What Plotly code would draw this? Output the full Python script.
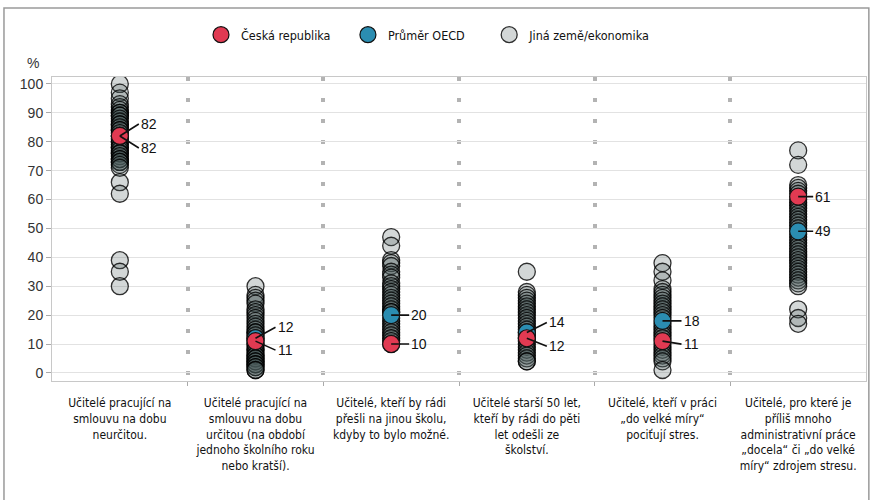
import plotly.graph_objects as go

categories = [
    "Učitelé pracující na<br>smlouvu na dobu<br>neurčitou.",
    "Učitelé pracující na<br>smlouvu na dobu<br>určitou (na období<br>jednoho školního roku<br>nebo kratší).",
    "Učitelé, kteří by rádi<br>přešli na jinou školu,<br>kdyby to bylo možné.",
    "Učitelé starší 50 let,<br>kteří by rádi do pěti<br>let odešli ze<br>školství.",
    "Učitelé, kteří v práci<br>„do velké míry“<br>pociťují stres.",
    "Učitelé, pro které je<br>příliš mnoho<br>administrativní práce<br>„docela“ či „do velké<br>míry“ zdrojem stresu.",
]

cz_values = [82, 11, 10, 12, 11, 61]
oecd_values = [82, 12, 20, 14, 18, 49]

other_values = [
    [100, 97, 95, 93, 92, 91, 90, 90, 89, 89, 88, 87, 86, 86, 85, 84, 84, 83, 82, 81,
     80, 80, 79, 78, 78, 77, 76, 76, 75, 74, 74, 73, 73, 72, 71, 66, 62, 39, 35, 30],
    [30, 27, 26, 25, 24, 22, 21, 20, 19, 18, 17, 16, 15, 14, 14, 13, 12, 11, 10, 10,
     9, 8, 8, 7, 6, 6, 5, 5, 4, 4, 3, 3, 2, 2, 1, 1],
    [47, 44, 39, 38, 37, 35, 34, 33, 31, 30, 29, 28, 27, 26, 25, 24, 23, 22, 21, 21,
     19, 18, 17, 16, 15, 14, 13, 12, 11, 10],
    [35, 28, 27, 26, 25, 24, 23, 22, 21, 20, 19, 18, 17, 16, 15, 14, 13, 12, 11, 10,
     9, 8, 7, 6, 5, 4, 4],
    [38, 35, 32, 29, 28, 27, 26, 25, 24, 23, 22, 21, 20, 19, 17, 16, 15, 14, 13, 12,
     10, 9, 8, 7, 6, 5, 4, 1],
    [77, 72, 65, 64, 63, 62, 60, 59, 58, 57, 56, 55, 54, 53, 52, 51, 50, 48, 47, 46,
     45, 44, 43, 42, 41, 40, 39, 38, 37, 36, 35, 34, 33, 32, 31, 30, 22, 19, 17],
]

y_ticks = [0, 10, 20, 30, 40, 50, 60, 70, 80, 90, 100]

# label offsets (pixels) for leader lines: (cz_ax, cz_ay, oecd_ax, oecd_ay)
label_offsets = [(19, 12, 19, -12), (20, 9, 20, -11), (18, 0, 18, 0),
                 (20, 8, 20, -10), (19, 3, 19, 0), (15, 0, 15, 0)]

NARROW = "DejaVu Sans Condensed, Liberation Sans Narrow, Arial Narrow, sans-serif"
REG = "Liberation Sans, Arial, sans-serif"

fig = go.Figure()

ox, oy = [], []
for i, vals in enumerate(other_values):
    ox += [i] * len(vals)
    oy += vals

fig.add_trace(go.Scatter(
    x=ox, y=oy, mode="markers", name="Jiná země/ekonomika", legend="legend3",
    marker=dict(size=17, color="rgba(70,88,88,0.24)",
                line=dict(color="rgba(0,0,0,0.8)", width=1.3)),
    hoverinfo="y"))
fig.add_trace(go.Scatter(
    x=list(range(6)), y=oecd_values, mode="markers", name="Průměr OECD", legend="legend2",
    marker=dict(size=17, color="#2B8DB1", line=dict(color="#111", width=1.2))))
fig.add_trace(go.Scatter(
    x=list(range(6)), y=cz_values, mode="markers", name="Česká republika", legend="legend",
    marker=dict(size=17, color="#E13A52", line=dict(color="#111", width=1.2))))

for i in range(6):
    cax, cay, oax, oay = label_offsets[i]
    for val, ax, ay in ((cz_values[i], cax, cay), (oecd_values[i], oax, oay)):
        fig.add_annotation(x=i, y=val, text=str(val), showarrow=True, arrowhead=0,
                           arrowwidth=1.6, arrowcolor="#111", ax=ax, ay=ay,
                           xanchor="left", font=dict(family=REG, size=14, color="#111"),
                           standoff=0)

fig.add_annotation(x=-0.023, y=1.047, xref="paper", yref="paper", text="%",
                   xanchor="center", yanchor="middle",
                   showarrow=False, font=dict(family=REG, size=14, color="#333"))

# outer frame
fig.add_shape(type="rect", xref="paper", yref="paper", x0=-0.059, x1=1.0035,
              y0=-0.42, y1=1.227, line=dict(color="#9a9a9a", width=1.5),
              fillcolor="rgba(0,0,0,0)", layer="below")

legend_common = dict(orientation="h", xanchor="left", xref="container",
                     y=0.93, yanchor="middle", yref="container",
                     font=dict(family=NARROW, size=12.5, color="#111"),
                     itemclick=False, bgcolor="rgba(0,0,0,0)")

fig.update_layout(
    width=872, height=500,
    margin=dict(l=52, r=6, t=77, b=119, autoexpand=False),
    paper_bgcolor="white", plot_bgcolor="white",
    showlegend=True,
    legend=dict(x=0.2305, **legend_common),
    legend2=dict(x=0.399, **legend_common),
    legend3=dict(x=0.561, **legend_common),
    xaxis=dict(range=[-0.5, 5.5], tickmode="array", tickvals=list(range(6)),
               ticktext=categories, ticks="", showgrid=False, zeroline=False,
               automargin=False, ticklabelstandoff=11,
               showline=True, linecolor="#c8c8c8", linewidth=1, mirror=True,
               tickfont=dict(family=NARROW, size=12, color="#111"),
               minor=dict(tickmode="array", tickvals=[0.5, 1.5, 2.5, 3.5, 4.5],
                          ticks="outside", ticklen=4, tickcolor="#aaa",
                          showgrid=True, gridcolor="#b3b3b3", gridwidth=4,
                          griddash="4px,17px")),
    yaxis=dict(range=[-2.8, 102.4], tickvals=y_ticks, ticks="outside", ticklen=5,
               automargin=False,
               tickcolor="#aaa", showgrid=True, gridcolor="#e2e2e2", gridwidth=1,
               zeroline=False, showline=True, linecolor="#c8c8c8", mirror=True,
               tickfont=dict(family=REG, size=14, color="#333")),
)

fig.write_html("out.html", config={"displayModeBar": False},
               post_script="document.body.style.margin='0';")
